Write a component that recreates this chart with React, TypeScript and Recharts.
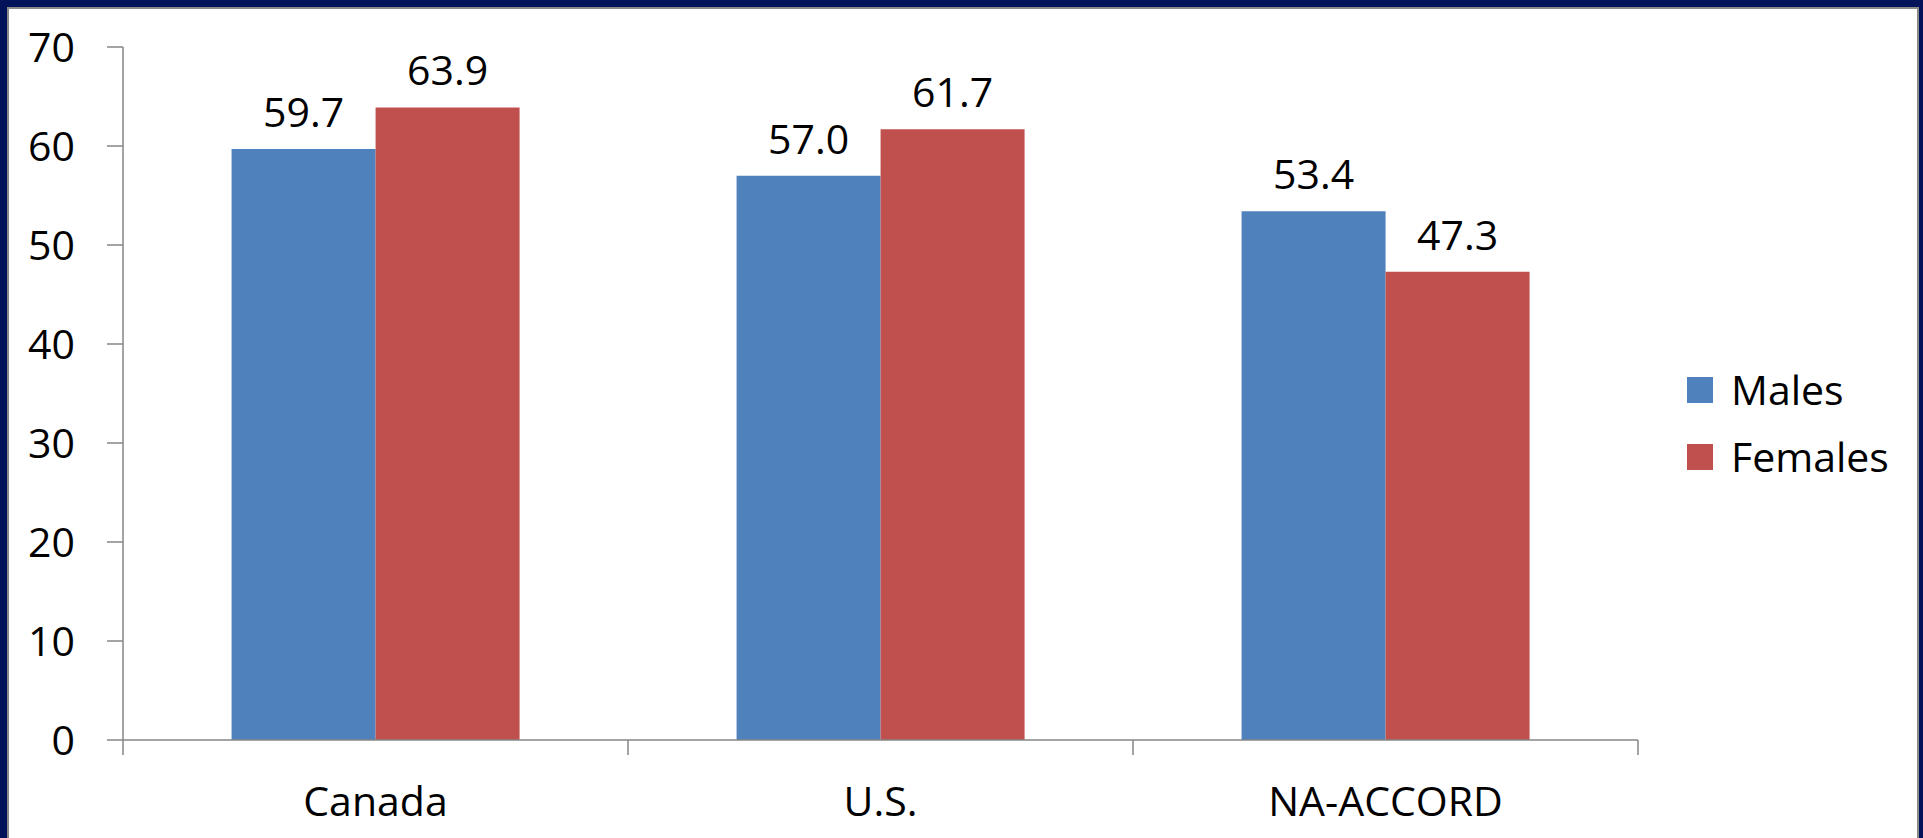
import React from 'react';
import { BarChart, Bar, XAxis, YAxis, LabelList, Legend } from 'recharts';

// Groups, series values and axis ticks
const categories = ['Canada', 'U.S.', 'NA-ACCORD'];
const males = [59.7, 57.0, 53.4];
const females = [63.9, 61.7, 47.3];
const yTicks = [0, 10, 20, 30, 40, 50, 60, 70];
const seriesNames = ['Males', 'Females'];
const seriesColors = ['#4F81BD', '#C0504D'];

const data = categories.map((name, i) => ({ name, Males: males[i], Females: females[i] }));

const FONT = '"Open Sans", "Noto Sans", sans-serif';
const AXIS_GRAY = '#868686';
const X_LABEL_MARGIN = 47;
const EDGE_TICK = 15;
const LEGEND_WIDTH = 240;

// Category label with Excel-style tick marks on the band edges
const CategoryTick = (props: any) => {
  const { x, y, payload, index, visibleTicksCount, width } = props;
  const half = payload && typeof payload.offset === 'number' && payload.offset > 0
    ? payload.offset
    : width / (visibleTicksCount || categories.length) / 2;
  const axisY = y - X_LABEL_MARGIN;
  const last = index === (visibleTicksCount || categories.length) - 1;
  return (
    <g>
      <line x1={x - half} x2={x - half} y1={axisY} y2={axisY + EDGE_TICK} stroke={AXIS_GRAY} strokeWidth={1.5} />
      {last && (
        <line x1={x + half} x2={x + half} y1={axisY} y2={axisY + EDGE_TICK} stroke={AXIS_GRAY} strokeWidth={1.5} />
      )}
      <text x={x} y={y} dy="0.71em" textAnchor="middle" fill="#000" fontSize={41} fontFamily={FONT}>
        {payload.value}
      </text>
    </g>
  );
};

const LegendContent = () => (
  <div style={{ fontFamily: FONT, fontSize: 41, color: '#000' }}>
    {seriesNames.map((n, i) => (
      <div key={n} style={{ display: 'flex', alignItems: 'center', height: 67 }}>
        <span style={{ width: 26, height: 26, background: seriesColors[i], display: 'inline-block', marginRight: 18 }} />
        <span style={{ lineHeight: '41px' }}>{n}</span>
      </div>
    ))}
  </div>
);

export default function App() {
  return (
    <div style={{ position: 'absolute', left: 0, top: 0, width: 1923, height: 838, background: '#02135A', overflow: 'hidden' }}>
      <div
        style={{
          position: 'absolute',
          left: 7,
          top: 7,
          width: 1912,
          height: 840,
          background: '#fff',
          borderLeft: '2px solid #8a8a8a',
          borderTop: '2px solid #8a8a8a',
          borderRight: '2px solid #8a8a8a',
          boxSizing: 'border-box',
        }}
      />
      <div style={{ position: 'absolute', left: 0, top: 0 }}>
        <BarChart
          width={1923}
          height={838}
          data={data}
          margin={{ top: 47, right: 286 - LEGEND_WIDTH - 1, bottom: 0, left: 0 }}
          barCategoryGap="21.5%"
          barGap={0}
        >
          <XAxis
            dataKey="name"
            height={98}
            axisLine={{ stroke: AXIS_GRAY, strokeWidth: 1.5 }}
            tickLine={false}
            tickSize={0}
            tickMargin={X_LABEL_MARGIN}
            interval={0}
            tick={<CategoryTick />}
          />
          <YAxis
            width={123}
            domain={[0, 70]}
            ticks={yTicks}
            interval={0}
            axisLine={{ stroke: AXIS_GRAY, strokeWidth: 1.5 }}
            tickLine={{ stroke: AXIS_GRAY, strokeWidth: 1.5 }}
            tickSize={16}
            tickMargin={32}
            tick={{ fill: '#000', fontSize: 41, fontFamily: FONT }}
          />
          <Legend
            layout="horizontal"
            verticalAlign="middle"
            align="right"
            content={<LegendContent />}
            wrapperStyle={{ position: 'absolute', left: 1687, top: 356, width: LEGEND_WIDTH }}
          />
          {seriesNames.map((n, i) => (
            <Bar key={n} dataKey={n} fill={seriesColors[i]} isAnimationActive={false}>
              <LabelList
                dataKey={n}
                position="top"
                offset={22}
                fill="#000"
                fontSize={41}
                fontFamily={FONT}
                formatter={(v: any) => Number(v).toFixed(1)}
              />
            </Bar>
          ))}
        </BarChart>
      </div>
    </div>
  );
}
